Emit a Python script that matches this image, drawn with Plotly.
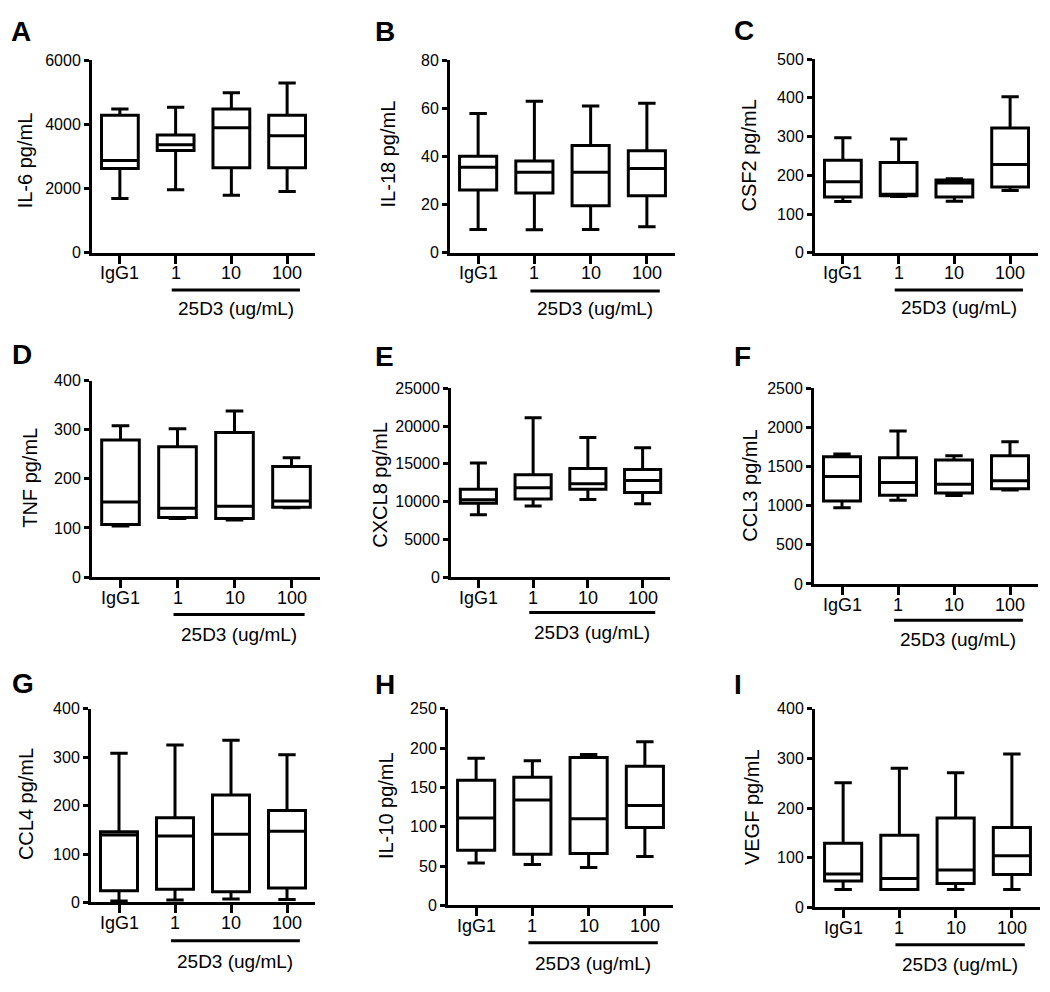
import plotly.graph_objects as go

# ---------------- data ----------------
CATEGORIES = ["IgG1", "1", "10", "100"]
GROUP_LABEL = "25D3 (ug/mL)"

PANEL_LETTERS = ["A", "B", "C", "D", "E", "F", "G", "H", "I"]
Y_TITLES = ["IL-6 pg/mL", "IL-18 pg/mL", "CSF2 pg/mL", "TNF pg/mL", "CXCL8 pg/mL",
            "CCL3 pg/mL", "CCL4 pg/mL", "IL-10 pg/mL", "VEGF pg/mL"]
Y_MAX = [6000, 80, 500, 400, 25000, 2500, 400, 250, 400]
Y_DTICK = [2000, 20, 100, 100, 5000, 500, 100, 50, 100]

IL6_LOW = [1690, 1960, 1790, 1910]
IL6_Q1 = [2625, 3185, 2645, 2645]
IL6_MED = [2875, 3360, 3895, 3645]
IL6_Q3 = [4285, 3665, 4475, 4285]
IL6_HIGH = [4480, 4535, 4985, 5290]

IL18_LOW = [9.6, 9.5, 9.6, 10.8]
IL18_Q1 = [26.0, 24.8, 19.5, 23.7]
IL18_MED = [35.5, 33.4, 33.4, 35.0]
IL18_Q3 = [40.1, 38.1, 44.5, 42.4]
IL18_HIGH = [57.8, 62.9, 60.9, 62.1]

CSF2_LOW = [132, 145, 133, 161]
CSF2_Q1 = [144, 147, 144, 170]
CSF2_MED = [183, 151, 180, 228]
CSF2_Q3 = [239, 233, 188, 322]
CSF2_HIGH = [297, 294, 191, 403]

TNF_LOW = [104, 119, 116, 141]
TNF_Q1 = [107, 121, 119, 142]
TNF_MED = [153, 140, 144, 155]
TNF_Q3 = [279, 265, 294, 225]
TNF_HIGH = [308, 302, 338, 243]

CXCL8_LOW = [8250, 9420, 10290, 9720]
CXCL8_Q1 = [9770, 10330, 11630, 11200]
CXCL8_MED = [10240, 11850, 12370, 12800]
CXCL8_Q3 = [11630, 13540, 14370, 14240]
CXCL8_HIGH = [15100, 21100, 18490, 17140]

CCL3_LOW = [975, 1071, 1130, 1202]
CCL3_Q1 = [1059, 1134, 1164, 1218]
CCL3_MED = [1374, 1298, 1273, 1319]
CCL3_Q3 = [1626, 1613, 1584, 1639]
CCL3_HIGH = [1660, 1954, 1639, 1819]

CCL4_LOW = [3, 5, 7, 6]
CCL4_Q1 = [24, 27, 22, 30]
CCL4_MED = [139, 137, 141, 147]
CCL4_Q3 = [146, 175, 222, 190]
CCL4_HIGH = [308, 325, 335, 305]

IL10_LOW = [54, 52, 48, 62]
IL10_Q1 = [70, 65, 66, 99]
IL10_MED = [111, 134, 110, 127]
IL10_Q3 = [159, 163, 188, 177]
IL10_HIGH = [187, 184, 192, 208]

VEGF_LOW = [36, 36, 36, 36]
VEGF_Q1 = [53, 36, 48, 66]
VEGF_MED = [67, 58, 75, 104]
VEGF_Q3 = [129, 145, 180, 161]
VEGF_HIGH = [251, 280, 271, 309]

PANEL_STATS = [
    (IL6_LOW, IL6_Q1, IL6_MED, IL6_Q3, IL6_HIGH),
    (IL18_LOW, IL18_Q1, IL18_MED, IL18_Q3, IL18_HIGH),
    (CSF2_LOW, CSF2_Q1, CSF2_MED, CSF2_Q3, CSF2_HIGH),
    (TNF_LOW, TNF_Q1, TNF_MED, TNF_Q3, TNF_HIGH),
    (CXCL8_LOW, CXCL8_Q1, CXCL8_MED, CXCL8_Q3, CXCL8_HIGH),
    (CCL3_LOW, CCL3_Q1, CCL3_MED, CCL3_Q3, CCL3_HIGH),
    (CCL4_LOW, CCL4_Q1, CCL4_MED, CCL4_Q3, CCL4_HIGH),
    (IL10_LOW, IL10_Q1, IL10_MED, IL10_Q3, IL10_HIGH),
    (VEGF_LOW, VEGF_Q1, VEGF_MED, VEGF_Q3, VEGF_HIGH),
]

# ---------------- layout (pixels) ----------------
W, H = 1050, 992
# x0, x1, ytop, ybottom of each plot area
DOMAINS = [
    (92, 315, 53, 249), (450, 675, 53, 249), (815, 1038, 52, 249),
    (92, 320, 379, 579), (451, 670, 387, 579), (814, 1038, 387, 586),
    (91, 315, 713, 910), (448, 673, 713, 913), (815, 1040, 713, 915),
]
LETTER_POS = [(9, 24), (373, 24), (732, 23), (10, 353), (373, 355), (732, 355),
              (10, 687), (373, 688), (732, 688)]
YTITLE_POS = [(25, 155), (388, 149), (749, 150), (30, 478), (380, 485), (750, 486),
              (26, 810), (386, 812), (752, 813)]
GROUP_LINE_Y = [(287, 306), (288, 306), (287, 305), (617, 637), (615, 635), (623, 643),
                (949, 970), (951, 972), (953, 973)]
XLABEL_GAP = 21

FONT = "Arial, Liberation Sans, sans-serif"


def px(x):
    return x / W


def py(y):
    return 1 - y / H


fig = go.Figure()
layout = dict(
    width=W, height=H, margin=dict(l=0, r=0, t=0, b=0),
    paper_bgcolor="white", plot_bgcolor="white", showlegend=False,
    font=dict(family=FONT, color="black"),
)
annotations = []
shapes = []
xpos = list(range(len(CATEGORIES)))

for i, stats in enumerate(PANEL_STATS):
    n = i + 1
    sfx = "" if n == 1 else str(n)
    low, q1, med, q3, high = stats
    fig.add_trace(go.Box(
        x=xpos, lowerfence=low, q1=q1, median=med, q3=q3, upperfence=high,
        width=0.66, whiskerwidth=0.47, boxpoints=False,
        line=dict(color="black", width=3), fillcolor="white",
        xaxis="x" + sfx, yaxis="y" + sfx, hoverinfo="skip",
    ))
    x0, x1, yt, yb = DOMAINS[i]
    layout["xaxis" + sfx] = dict(
        domain=[px(x0), px(x1)], anchor="y" + sfx, range=[-0.5, 3.5],
        tickvals=xpos, ticktext=[""] * len(CATEGORIES), ticks="outside", ticklen=8,
        tickwidth=3, tickcolor="black", showline=True, linewidth=3, linecolor="black",
        showgrid=False, zeroline=False,
    )
    layout["yaxis" + sfx] = dict(
        domain=[py(yb), py(yt)], anchor="x" + sfx, range=[0, Y_MAX[i]],
        tick0=0, dtick=Y_DTICK[i], tickformat="d", ticks="outside", ticklen=5, tickwidth=3,
        tickcolor="black", showline=True, linewidth=3, linecolor="black",
        showgrid=False, zeroline=False, tickfont=dict(size=16, family=FONT),
    )
    for k, cat in enumerate(CATEGORIES):
        annotations.append(dict(text=cat, x=xpos[k], y=py(yb + XLABEL_GAP),
                                xref="x" + sfx, yref="paper", xanchor="center",
                                yanchor="middle", showarrow=False,
                                font=dict(size=18, family=FONT)))
    lx, ly = LETTER_POS[i]
    annotations.append(dict(text="<b>%s</b>" % PANEL_LETTERS[i], x=px(lx), y=py(ly),
                            xref="paper", yref="paper", xanchor="left", yanchor="middle",
                            showarrow=False, font=dict(size=28, family=FONT)))
    tx, ty = YTITLE_POS[i]
    annotations.append(dict(text=Y_TITLES[i], x=px(tx), y=py(ty), xref="paper", yref="paper",
                            xanchor="center", yanchor="middle", textangle=-90,
                            showarrow=False, font=dict(size=20, family=FONT)))
    gly, gty = GROUP_LINE_Y[i]
    shapes.append(dict(type="line", xref="x" + sfx, yref="paper", x0=0.93, x1=3.23,
                       y0=py(gly), y1=py(gly), line=dict(color="black", width=3)))
    annotations.append(dict(text=GROUP_LABEL, x=2.08, y=py(gty), xref="x" + sfx, yref="paper",
                            xanchor="center", yanchor="middle", showarrow=False,
                            font=dict(size=19, family=FONT)))

layout["annotations"] = annotations
layout["shapes"] = shapes
fig.update_layout(**layout)
fig.write_html(
    "out.html",
    config={"displayModeBar": False, "staticPlot": True},
    post_script=("document.documentElement.style.margin='0';"
                 "document.body.style.margin='0';document.body.style.padding='0';"
                 "document.documentElement.style.overflow='hidden';"
                 "document.body.style.overflow='hidden';"),
)
